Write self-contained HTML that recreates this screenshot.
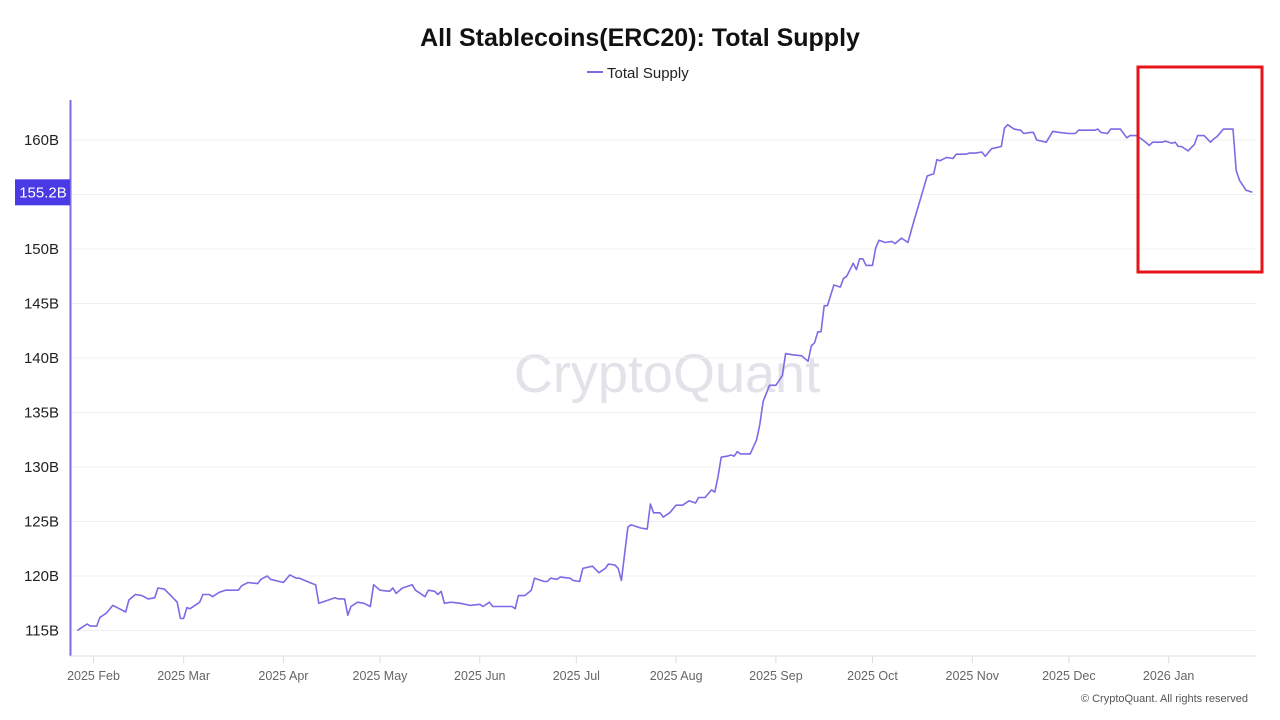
<!DOCTYPE html>
<html><head><meta charset="utf-8"><style>
html,body{margin:0;padding:0;background:#fff;width:1280px;height:720px;overflow:hidden;font-family:"Liberation Sans",sans-serif}
</style></head><body>
<svg id="chart" width="1280" height="720" xmlns="http://www.w3.org/2000/svg" font-family="Liberation Sans, sans-serif">
<text x="640" y="46" text-anchor="middle" font-size="25" font-weight="bold" fill="#111">All Stablecoins(ERC20): Total Supply</text>
<g>
<line x1="587" y1="72" x2="603" y2="72" stroke="#7b6be6" stroke-width="2"/>
<text x="607" y="78" font-size="15" fill="#222">Total Supply</text>
</g>
<text x="667" y="392" text-anchor="middle" font-size="54" fill="#e2e2e8">CryptoQuant</text>
<g id="grid"></g>
<g id="yticks"></g>
<g id="xticks"></g>
<line x1="70.5" y1="100" x2="70.5" y2="656" stroke="#7b6be6" stroke-width="2"/>
<line x1="70" y1="656" x2="1256" y2="656" stroke="#ddd" stroke-width="1"/>
<path id="series" fill="none" stroke="#7b6be6" stroke-width="1.6" stroke-linejoin="round"/>
<g>
<rect id="tagRect" x="15" y="178" width="55" height="26" fill="#4a3ae6"/>
<text id="tagText" x="43" y="197" text-anchor="middle" font-size="15" fill="#fff">155.2B</text>
</g>
<rect x="1138" y="67" width="124" height="205" fill="none" stroke="#e8141a" stroke-width="3"/>
<text x="1248" y="702" text-anchor="end" font-size="11" fill="#555">© CryptoQuant. All rights reserved</text>
</svg>
<script>
const days=[-5,-4,-2,-1,1,2,4,6,8,10,11,13,15,17,19,20,22,24,26,27,28,29,30,33,34,36,37,39,41,45,46,48,51,52,54,55,59,61,63,64,68,69,70,72,75,76,78,79,80,82,84,86,87,89,92,93,94,96,99,100,103,104,106,107,108,109,111,114,117,120,121,123,124,130,131,132,134,136,137,140,141,142,144,145,148,149,151,152,155,157,159,160,162,163,164,166,167,170,172,173,174,176,177,179,181,183,185,187,188,190,192,193,194,195,197,198,199,200,201,204,206,207,208,210,212,214,215,217,220,222,223,224,225,226,227,228,230,232,233,234,236,237,238,239,240,242,243,244,246,248,249,251,253,255,257,259,261,262,263,265,267,268,271,272,274,276,277,279,282,283,284,286,288,289,291,292,293,296,298,300,303,305,306,308,311,312,313,315,316,319,321,322,324,326,328,329,332,333,335,336,337,338,340,342,343,345,347,348,349,351,354,355,356,358,360];
const supply=[115.0,115.2,115.6,115.4,115.4,116.2,116.6,117.3,117.0,116.7,117.8,118.3,118.2,117.9,118.0,118.9,118.8,118.2,117.6,116.1,116.1,117.1,117.0,117.6,118.3,118.3,118.1,118.5,118.7,118.7,119.1,119.4,119.3,119.7,120.0,119.7,119.4,120.1,119.8,119.8,119.3,119.2,117.5,117.7,118.0,117.9,117.9,116.4,117.2,117.6,117.5,117.2,119.2,118.7,118.6,118.9,118.4,118.9,119.2,118.7,118.1,118.7,118.6,118.3,118.6,117.5,117.6,117.5,117.3,117.4,117.2,117.6,117.2,117.2,117.0,118.2,118.2,118.7,119.8,119.5,119.5,119.8,119.7,119.9,119.8,119.6,119.5,120.7,120.9,120.3,120.7,121.1,121.0,120.7,119.6,124.5,124.7,124.4,124.3,126.6,125.8,125.8,125.4,125.8,126.5,126.5,126.9,126.7,127.2,127.2,127.9,127.7,129.1,130.9,131.0,131.1,131.0,131.4,131.2,131.2,132.5,133.9,136.0,137.5,137.5,138.4,140.4,140.3,140.2,139.7,141.1,141.4,142.4,142.4,144.8,144.8,146.7,146.5,147.3,147.5,148.7,148.1,149.1,149.1,148.5,148.5,150.1,150.8,150.6,150.7,150.5,151.0,150.6,152.7,154.7,156.7,156.9,158.2,158.1,158.4,158.3,158.7,158.7,158.8,158.8,158.9,158.5,159.2,159.4,161.1,161.4,161.0,160.9,160.6,160.7,160.7,160.0,159.8,160.8,160.7,160.6,160.6,160.9,160.9,160.9,161.0,160.7,160.6,161.0,161.0,160.2,160.4,160.4,160.0,159.5,159.8,159.8,159.9,159.7,159.8,159.4,159.4,159.0,159.6,160.4,160.4,159.8,160.1,160.3,161.0,161.0,157.2,156.3,155.4,155.2];
const yTicks=[115,120,125,130,135,140,145,150,155,160];
const yTickLabels=["115B","120B","125B","130B","135B","140B","145B","150B","","160B"];
const monthDays=[0,28,59,89,120,150,181,212,242,273,303,334];
const monthLabels=["2025 Feb","2025 Mar","2025 Apr","2025 May","2025 Jun","2025 Jul","2025 Aug","2025 Sep","2025 Oct","2025 Nov","2025 Dec","2026 Jan"];

const NS="http://www.w3.org/2000/svg";
function xScale(d){return 93.5+d*3.219;}
function yScale(v){return 140+(160-v)*10.9;}
const grid=document.getElementById('grid'),yt=document.getElementById('yticks'),xt=document.getElementById('xticks');
yTicks.forEach((t,i)=>{
  const y=yScale(t);
  const l=document.createElementNS(NS,'line');
  
  
  l.setAttribute('x1',71);l.setAttribute('x2',1256);l.setAttribute('y1',y);l.setAttribute('y2',y);
  l.setAttribute('stroke','#f0f0f3');l.setAttribute('stroke-width',1);
  grid.appendChild(l);
  if(yTickLabels[i]){
    const tx=document.createElementNS(NS,'text');
    
    
    tx.setAttribute('x',59);tx.setAttribute('y',y+5);tx.setAttribute('text-anchor','end');
    tx.setAttribute('font-size','15');tx.setAttribute('fill','#222');
    tx.textContent=yTickLabels[i];yt.appendChild(tx);
  }
});
monthDays.forEach((d,i)=>{
  const x=xScale(d);
  const l=document.createElementNS(NS,'line');
  
  
  l.setAttribute('x1',x);l.setAttribute('x2',x);l.setAttribute('y1',656);l.setAttribute('y2',663);
  l.setAttribute('stroke','#ddd');xt.appendChild(l);
  const tx=document.createElementNS(NS,'text');
  
  
  tx.setAttribute('x',x);tx.setAttribute('y',680);tx.setAttribute('text-anchor','middle');
  tx.setAttribute('font-size','12.5');tx.setAttribute('fill','#666');
  tx.textContent=monthLabels[i];xt.appendChild(tx);
});
let dstr='';
days.forEach((d,i)=>{dstr+=(i?'L':'M')+xScale(d).toFixed(1)+','+yScale(supply[i]).toFixed(1);});
document.getElementById('series').setAttribute('d',dstr);
const last=supply[supply.length-1];
const ty=yScale(last);
document.getElementById('tagRect').setAttribute('y',ty-13);
document.getElementById('tagText').setAttribute('y',ty+5);
document.getElementById('tagText').textContent=last.toFixed(1)+'B';
</script>
</body></html>
